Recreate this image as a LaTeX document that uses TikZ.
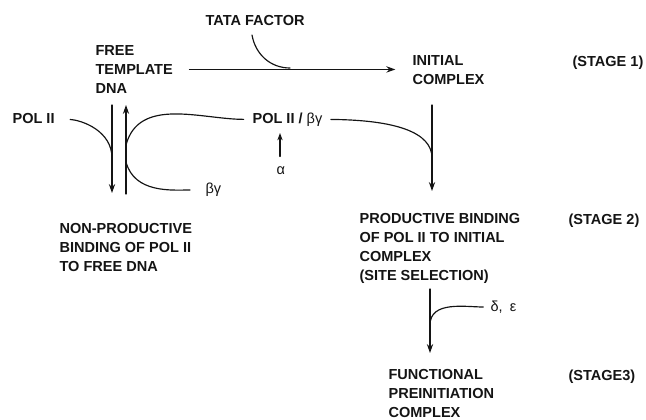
\documentclass[tikz,border=0pt]{standalone}
\usepackage{fontspec}
\setmainfont{Liberation Sans}
\usetikzlibrary{arrows.meta,calc}
\definecolor{StageInk}{gray}{0.08}
\tikzset{
    stage/diagram/.style={
        x=0.03cm, y=-0.03cm,
        draw=StageInk,
        text=StageInk,
        line width=1pt,
        line cap=round,
        >=Stealth
    },
    stage/label/.style={
        font=\bfseries\fontsize{12.4}{16.1}\selectfont,
        align=left, anchor=north west, inner sep=0pt
    },
    stage/greek/.style={
        font=\fontsize{12.4}{16.1}\selectfont,
        anchor=west, inner sep=0pt
    },
    stage/join/.style={draw=StageInk, line width=1pt},
    stage/flow/.style={
        draw=StageInk, line width=1pt,
        -{Stealth[length=2.7mm, width=1.9mm]}
    },
    stage/nudge/.style={
        draw=StageInk, line width=1pt,
        -{Stealth[length=2.2mm, width=1.6mm]}
    }
}
\begin{document}
\begin{tikzpicture}[stage/diagram]
    \useasboundingbox (0,0) rectangle (646,419);
    % stage 1 row
    \node[stage/label] (tata) at (205,15) {TATA FACTOR};
    \node[stage/label] (free) at (95,45) {FREE\\TEMPLATE\\DNA};
    \node[stage/label] (initial) at (412,55) {INITIAL\\COMPLEX};
    \node[stage/label] (stageOne) at (572,55) {(STAGE 1)};
    % pol II and its subunits
    \node[stage/label] (polFree) at (12,113) {POL II};
    \node[stage/label] (polBg) at (252,112) {POL II / {\mdseries βγ}};
    \node[stage/greek] (alpha) at (276,171) {α};
    \node[stage/greek] (bg) at (205,190) {βγ};
    \node[stage/label] (nonprod) at (59,223)
        {NON-PRODUCTIVE\\BINDING OF POL II\\TO FREE DNA};
    % stage 2 and 3
    \node[stage/label] (prod) at (359,213)
        {PRODUCTIVE BINDING\\OF POL II TO INITIAL\\COMPLEX\\(SITE SELECTION)};
    \node[stage/label] (stageTwo) at (568,213) {(STAGE 2)};
    \node[stage/greek] (de) at (490,307) {δ,\enspace ε};
    \node[stage/label] (func) at (388,369)
        {FUNCTIONAL\\PREINITIATION\\COMPLEX};
    \node[stage/label] (stageThree) at (568,369) {(STAGE3)};

    \coordinate (tataIn) at (252,35);
    \coordinate (tataJoin) at (290,68);
    \coordinate (dnaDownTop) at (112,105);
    \coordinate (dnaDownEnd) at (112,193);
    \coordinate (dnaUpTop) at (126,105);
    \coordinate (dnaUpEnd) at (126,194);
    \coordinate (polJoin) at (112,158);
    \coordinate (bgSplit) at (126,145);
    \coordinate (bgSplitLow) at (126,162);
    \coordinate (alphaTip) at (280,133);
    \coordinate (stemTop) at (432,105);
    \coordinate (stemJoin) at (432,158);
    \coordinate (stemEnd) at (432,191);
    \coordinate (selTop) at (430,289);
    \coordinate (deJoin) at (430,325);
    \coordinate (selEnd) at (430,353);

    \draw[stage/flow, shorten <=0.48cm, shorten >=0.5cm]
        (free.east) -- (free.east -| initial.west);
    \draw[stage/join] (tataIn) to[out=-80, in=180] (tataJoin);

    \draw[stage/flow] (dnaDownTop) -- (dnaDownEnd);
    \draw[stage/flow] (dnaUpEnd) -- (dnaUpTop);
    \draw[stage/join, shorten <=0.45cm] (polFree.east) to[out=-3, in=90] (polJoin);
    \draw[stage/join, shorten >=0.25cm] (bgSplit) to[out=75, in=180] (polBg.west);
    \draw[stage/join, shorten >=0.45cm] (bgSplitLow) to[out=-75, in=180] (bg.west);
    \draw[stage/nudge, shorten <=0.3cm] (alpha.north -| alphaTip) -- (alphaTip);

    \draw[stage/join, shorten <=0.24cm] (polBg.east)
        .. controls (395,120) and (432,132) .. (stemJoin);
    \draw[stage/flow] (stemTop) -- (stemEnd);

    \draw[stage/flow] (selTop) -- (selEnd);
    \draw[stage/join, shorten <=0.2cm] (de.west) to[out=180, in=90] (deJoin);
\end{tikzpicture}
\end{document}
